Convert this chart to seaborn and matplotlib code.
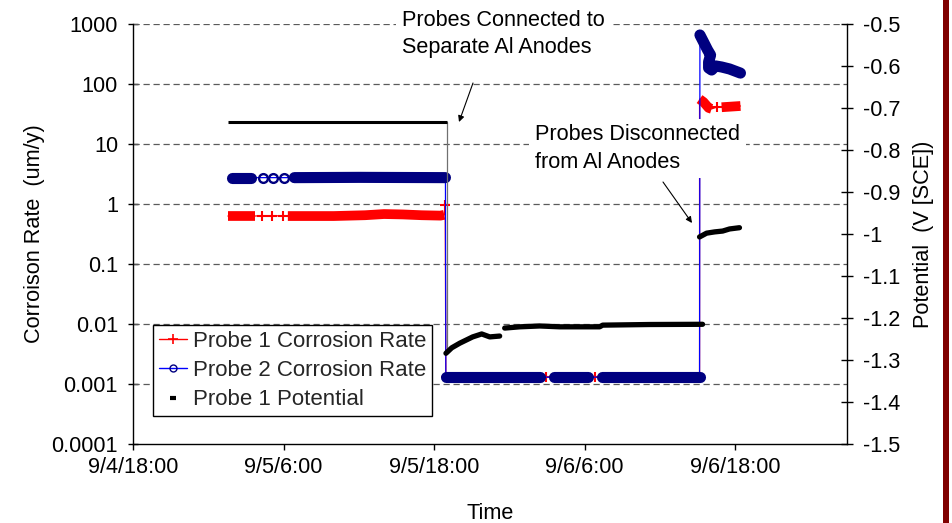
import matplotlib
matplotlib.use("Agg")
import matplotlib.pyplot as plt
import numpy as np
import pandas as pd
import seaborn as sns
from matplotlib.lines import Line2D
from matplotlib.patches import Rectangle
from matplotlib.ticker import NullLocator, FixedLocator

# ---------------- data (time = hours after 9/4 18:00) ----------------
xtick_hours = [0, 12, 24, 36, 48]
xtick_labels = ["9/4/18:00", "9/5/6:00", "9/5/18:00", "9/6/6:00", "9/6/18:00"]
x_end_hours = 56.9

left_ticks = [0.0001, 0.001, 0.01, 0.1, 1, 10, 100, 1000]
left_tick_labels = ["0.0001", "0.001", "0.01", "0.1", "1", "10", "100", "1000"]
right_ticks = [-1.5, -1.4, -1.3, -1.2, -1.1, -1.0, -0.9, -0.8, -0.7, -0.6, -0.5]
right_tick_labels = ["-1.5", "-1.4", "-1.3", "-1.2", "-1.1", "-1", "-0.9", "-0.8", "-0.7", "-0.6", "-0.5"]

# Probe 1 corrosion rate (um/y); run = contiguous dense run of readings
p1_rate_time = [7.56, 9.71, 10.27, 11.07, 11.94, 12.34, 16.0, 18.5, 20.0, 21.5, 23.0, 24.5, 24.8, 24.88,
                24.93, 32.89, 36.79, 45.15,
                45.15, 45.47, 45.87, 46.11, 46.51, 46.91, 48.41]
p1_rate_value = [0.63, 0.63, 0.64, 0.63, 0.64, 0.63, 0.63, 0.65, 0.68, 0.67, 0.65, 0.64, 0.66, 0.95,
                 0.0013, 0.0013, 0.0013, 0.0013,
                 56, 50, 40, 38.5, 41, 41, 43]
p1_rate_run = [1, 1, 2, 3, 4, 5, 5, 5, 5, 5, 5, 5, 5, 6,
               7, 8, 9, 10,
               11, 11, 11, 11, 12, 13, 13]

# Probe 2 corrosion rate (um/y)
p2_rate_time = [7.92, 9.44, 10.35, 11.19, 12.02, 12.86, 18.0, 24.9,
                24.93, 32.41, 33.52, 36.23, 37.35, 45.15,
                45.18, 45.47, 45.79, 46.03, 45.87, 45.87, 46.11, 46.43, 46.91, 47.54, 48.41]
p2_rate_value = [2.75, 2.75, 2.75, 2.75, 2.75, 2.75, 2.78, 2.75,
                 0.0013, 0.0013, 0.0013, 0.0013, 0.0013, 0.0013,
                 656, 500, 369, 304, 233, 185, 171, 200, 192, 178, 152]
p2_rate_run = [1, 1, 2, 3, 4, 5, 5, 5,
               6, 6, 7, 7, 8, 8,
               9, 9, 9, 9, 9, 9, 9, 9, 9, 9, 9]

# Probe 1 potential (V vs SCE)
p1_pot_time = [7.56, 25.0,
               24.94, 25.40, 26.04, 27.07, 27.79, 28.43, 29.22,
               29.62, 30.82, 32.41, 34.0, 35.04, 37.19, 37.43, 41.17, 45.39,
               45.15, 45.71, 46.35, 46.99, 47.54, 48.33]
p1_pot_value = [-0.734, -0.734,
                -1.284, -1.271, -1.260, -1.245, -1.238, -1.245, -1.243,
                -1.224, -1.221, -1.219, -1.221, -1.221, -1.221, -1.217, -1.2155, -1.215,
                -1.007, -0.998, -0.995, -0.993, -0.988, -0.985]
p1_pot_run = [1, 1,
              2, 2, 2, 2, 2, 2, 2,
              3, 3, 3, 3, 3, 3, 3, 3, 3,
              4, 4, 4, 4, 4, 4]

series_labels = ["Probe 1 Corrosion Rate", "Probe 2 Corrosion Rate", "Probe 1 Potential"]

# ---------------- style ----------------
sns.set_theme(style="white")
plt.rcParams["font.family"] = ["Liberation Sans", "DejaVu Sans"]
FS = 15.6
RED, BLUE, NAVY = "#FF0000", "#0000FF", "#000080"

fig = plt.figure(figsize=(9.52, 5.23), dpi=100)
ax = fig.add_axes([133 / 952, 1 - 444 / 523, 714 / 952, 420 / 523])
ax.set_yscale("log")
ax.set_ylim(0.0001, 1000)
ax.set_xlim(0, x_end_hours)

p1 = pd.DataFrame({"t": p1_rate_time, "v": p1_rate_value, "run": p1_rate_run})
p2 = pd.DataFrame({"t": p2_rate_time, "v": p2_rate_value, "run": p2_rate_run})
pot = pd.DataFrame({"t": p1_pot_time, "v": p1_pot_value, "run": p1_pot_run})


def draw_rate(df, line_color, mark_color, band_lw, capstyle, marker, ms, mew, mfc, z):
    # thin connecting line through all readings (chronological order)
    sns.lineplot(data=df, x="t", y="v", estimator=None, sort=False, color=line_color,
                 lw=0.9, ax=ax, legend=False, zorder=z)
    counts = df.groupby("run")["t"].transform("size")
    dense = df[counts > 1]
    single = df[counts == 1]
    # dense runs of overlapping markers -> solid band
    sns.lineplot(data=dense, x="t", y="v", units="run", estimator=None, sort=False,
                 color=mark_color, lw=band_lw, solid_capstyle=capstyle, ax=ax,
                 legend=False, zorder=z + 0.1)
    # isolated readings -> individual markers
    ax.plot(single["t"], single["v"], ls="none", marker=marker, ms=ms, mew=mew,
            mec=mark_color, mfc=mfc, zorder=z + 0.2)


draw_rate(p1, RED, RED, 7.0, "butt", "+", 6.5, 1.5, RED, 3)
draw_rate(p2, BLUE, NAVY, 8.0, "round", "o", 6.3, 1.7, "none", 4)

# grid
ax.yaxis.set_major_locator(FixedLocator(left_ticks))
ax.yaxis.set_minor_locator(NullLocator())
ax.set_yticklabels(left_tick_labels)
ax.grid(False)
for v in left_ticks[1:]:
    ax.axhline(v, color="#5a5a5a", lw=0.9, ls=(0, (5, 3)), zorder=1)

ax.set_xticks(xtick_hours)
ax.set_xticklabels(xtick_labels)
ax.xaxis.set_minor_locator(NullLocator())

for s in ["top", "right"]:
    ax.spines[s].set_visible(False)
for s in ["left", "bottom"]:
    ax.spines[s].set_color("black")
    ax.spines[s].set_linewidth(1.0)

ax.tick_params(axis="y", which="major", direction="inout", length=7.2, width=1,
               pad=7.2, labelsize=FS, colors="black", left=True)
ax.tick_params(axis="x", which="major", direction="out", length=4.5, width=1,
               pad=5, labelsize=FS, colors="black", bottom=True)
ax.set_xlabel("Time", fontsize=FS, labelpad=18, color="black")
ax.set_ylabel("Corroison Rate  (um/y)", fontsize=FS, labelpad=5, color="black")

# secondary axis: potential
ax2 = ax.twinx()
ax2.set_ylim(-1.5, -0.5)
ax2.set_xlim(0, x_end_hours)
# connector of the potential step at the connection time
conn = pot[pot["run"] == 1].tail(1)
ax2.plot([conn["t"].iloc[0], conn["t"].iloc[0]],
         [conn["v"].iloc[0], pot[pot["run"] == 2]["v"].iloc[0]],
         color="#707070", lw=0.9, zorder=2)
sns.lineplot(data=pot[pot["run"] == 1], x="t", y="v", estimator=None, sort=False,
             color="black", lw=2.2, solid_capstyle="butt", ax=ax2, legend=False, zorder=3)
sns.lineplot(data=pot[pot["run"] > 1], x="t", y="v", units="run", estimator=None, sort=False,
             color="black", lw=3.8, solid_capstyle="round", ax=ax2, legend=False, zorder=3)
ax2.yaxis.set_major_locator(FixedLocator(right_ticks))
ax2.set_yticklabels(right_tick_labels)
ax2.yaxis.set_minor_locator(NullLocator())
for s in ["top", "left", "bottom"]:
    ax2.spines[s].set_visible(False)
ax2.spines["right"].set_color("black")
ax2.spines["right"].set_linewidth(1.0)
ax2.tick_params(axis="y", which="major", direction="inout", length=8.6, width=1,
                pad=7.2, labelsize=FS, colors="black", right=True)
ax2.set_ylabel("Potential  (V [SCE])", fontsize=FS, labelpad=9, color="black")
ax2.set_xlabel("")
ax2.grid(False)

# legend
handles = [
    Line2D([], [], color=RED, lw=1, marker="+", ms=7, mew=1.2),
    Line2D([], [], color=BLUE, lw=1, marker="o", ms=5, mew=1.0, mec=NAVY, mfc="none"),
    Line2D([], [], color="black", ls="none", marker="_", ms=5, mew=3),
]
leg = ax2.legend(handles, series_labels, loc="lower left",
                 bbox_to_anchor=(20 / 714, 28 / 420), borderaxespad=0,
                 fontsize=16, frameon=True, fancybox=False, framealpha=1,
                 edgecolor="black", handlelength=1.3, handletextpad=0.25,
                 labelspacing=0.38, borderpad=0.25)
leg.get_frame().set_linewidth(1.0)
leg.set_zorder(10)

# annotations
ann_kw = dict(fontsize=FS, ha="left", va="center", linespacing=1.4, color="black",
              bbox=dict(facecolor="white", edgecolor="none", pad=4), zorder=8)
ax2.text((402 - 133) / 714, (444 - 34) / 420, "Probes Connected to\nSeparate Al Anodes",
         transform=ax2.transAxes, clip_on=False, **ann_kw)
ax2.text((535 - 133) / 714, (444 - 148.5) / 420, "Probes Disconnected\nfrom Al Anodes",
         transform=ax2.transAxes, clip_on=False, **ann_kw)
arrow = dict(arrowstyle="-|>", color="black", lw=0.8, mutation_scale=9, shrinkA=0, shrinkB=0)
ax2.annotate("", xy=((459 - 133) / 714, (444 - 122) / 420), xycoords="axes fraction",
             xytext=((473 - 133) / 714, (444 - 83) / 420), textcoords="axes fraction",
             arrowprops=arrow, zorder=9)
ax2.annotate("", xy=((692 - 133) / 714, (444 - 223) / 420), xycoords="axes fraction",
             xytext=((663 - 133) / 714, (444 - 182) / 420), textcoords="axes fraction",
             arrowprops=arrow, zorder=9)

# slide border strip on the right
fig.patches.append(Rectangle((943 / 952, 0), 6 / 952, 1, transform=fig.transFigure,
                             facecolor="#800000", edgecolor="none"))

fig.savefig("out.png", dpi=100)
